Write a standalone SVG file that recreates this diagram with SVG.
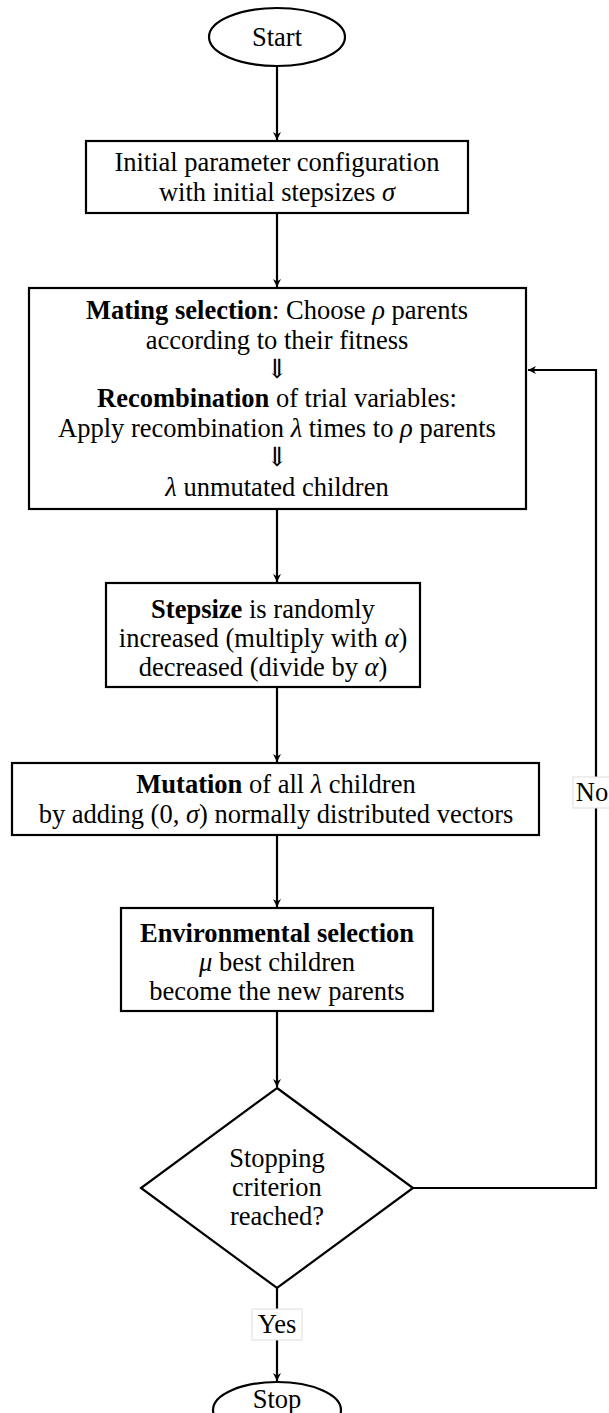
<svg xmlns="http://www.w3.org/2000/svg" width="609" height="1413" viewBox="0 0 609 1413">
  <style>
    .shape { fill: #ffffff; stroke: #000000; stroke-width: 2.2; }
    .edge { fill: none; stroke: #000000; stroke-width: 2.2; }
    text { font-family: "Liberation Serif", "DejaVu Serif", serif; font-size: 26.5px; fill: #000000; text-anchor: middle; }
    .b { font-weight: bold; }
    .m { font-style: italic; }
    .lbl { fill: #ffffff; stroke: #dddddd; stroke-width: 1; }
  </style>
  <defs>
    <marker id="arrow" viewBox="0 0 10 10" refX="10" refY="5" markerWidth="8" markerHeight="9" orient="auto" markerUnits="userSpaceOnUse">
      <path d="M0,0 L10,5 L0,10 L3,5 Z" fill="#000000"/>
    </marker>
  </defs>
  <rect width="609" height="1413" fill="#ffffff"/>

  <g id="connectors">
    <path class="edge" d="M277,66 L277,140" marker-end="url(#arrow)"/>
    <path class="edge" d="M277,213 L277,287" marker-end="url(#arrow)"/>
    <path class="edge" d="M277,509 L277,582" marker-end="url(#arrow)"/>
    <path class="edge" d="M277,687 L277,762" marker-end="url(#arrow)"/>
    <path class="edge" d="M277,835 L277,907" marker-end="url(#arrow)"/>
    <path class="edge" d="M277,1011 L277,1087" marker-end="url(#arrow)"/>
    <path class="edge" d="M277,1288 L277,1381" marker-end="url(#arrow)"/>
    <path class="edge" d="M413,1188 L596,1188 L596,370 L528,370" marker-end="url(#arrow)"/>
    <g id="label-no">
      <rect class="lbl" x="573" y="777" width="44" height="31"/>
      <text x="592" y="801">No</text>
    </g>
    <g id="label-yes">
      <rect class="lbl" x="252" y="1309" width="50" height="31"/>
      <text x="277" y="1333">Yes</text>
    </g>
  </g>

  <g id="start">
    <ellipse class="shape" cx="277" cy="37" rx="68" ry="29"/>
    <text x="277" y="46">Start</text>
  </g>

  <g id="init">
    <rect class="shape" x="86" y="141" width="382" height="72"/>
    <text x="277" y="171">Initial parameter configuration</text>
    <text x="277" y="201">with initial stepsizes <tspan class="m">σ</tspan></text>
  </g>

  <g id="mating">
    <rect class="shape" x="29" y="288" width="497" height="221"/>
    <text x="277" y="319"><tspan class="b">Mating selection</tspan>: Choose <tspan class="m">ρ</tspan> parents</text>
    <text x="277" y="349">according to their fitness</text>
    <text x="277" y="378">⇓</text>
    <text x="277" y="407"><tspan class="b">Recombination</tspan> of trial variables:</text>
    <text x="277" y="437">Apply recombination <tspan class="m">λ</tspan> times to <tspan class="m">ρ</tspan> parents</text>
    <text x="277" y="466">⇓</text>
    <text x="277" y="496"><tspan class="m">λ</tspan> unmutated children</text>
  </g>

  <g id="stepsize">
    <rect class="shape" x="106" y="583" width="314" height="104"/>
    <text x="263" y="618"><tspan class="b">Stepsize</tspan> is randomly</text>
    <text x="263" y="647">increased (multiply with <tspan class="m">α</tspan>)</text>
    <text x="263" y="676">decreased (divide by <tspan class="m">α</tspan>)</text>
  </g>

  <g id="mutation">
    <rect class="shape" x="12" y="763" width="527" height="72"/>
    <text x="276" y="793"><tspan class="b">Mutation</tspan> of all <tspan class="m">λ</tspan> children</text>
    <text x="276" y="823">by adding (0, <tspan class="m">σ</tspan>) normally distributed vectors</text>
  </g>

  <g id="envsel">
    <rect class="shape" x="121" y="908" width="312" height="103"/>
    <text x="277" y="942" class="b">Environmental selection</text>
    <text x="277" y="971"><tspan class="m">μ</tspan> best children</text>
    <text x="277" y="1000">become the new parents</text>
  </g>

  <g id="stop-check">
    <polygon class="shape" points="277,1088 413,1188 277,1288 141,1188"/>
    <text x="277" y="1167">Stopping</text>
    <text x="277" y="1196">criterion</text>
    <text x="277" y="1225">reached?</text>
  </g>

  <g id="stop">
    <ellipse class="shape" cx="277" cy="1410" rx="64" ry="28"/>
    <text x="277" y="1408">Stop</text>
  </g>
</svg>
